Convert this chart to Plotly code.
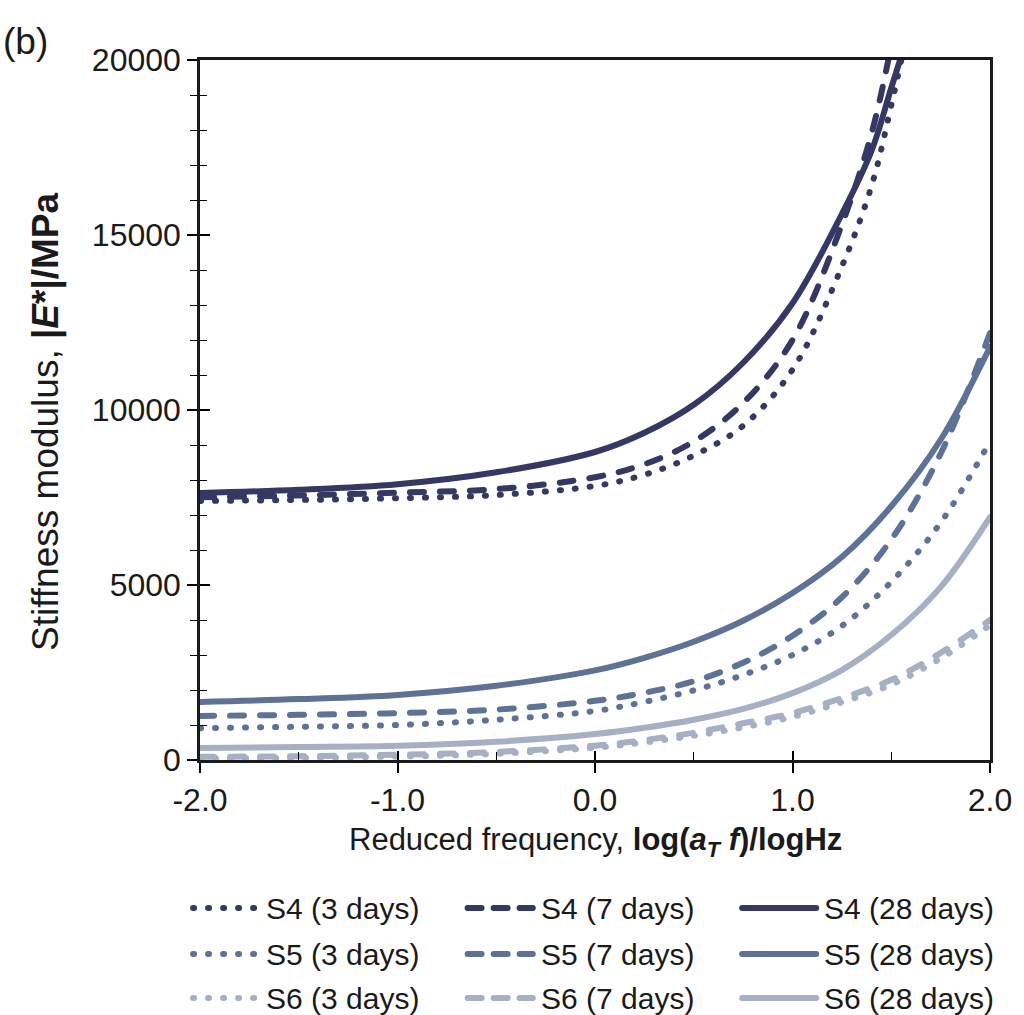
import plotly.graph_objects as go

# Reduced frequency, log(aT f) / logHz
freq = [-2.0, -1.5, -1.0, -0.5, 0.0, 0.25, 0.5, 0.75, 1.0, 1.25, 1.5, 1.75, 2.0]
# S4 rises past the 20000 MPa ceiling, so it gets its own grid
freq_s4 = [-2.0, -1.5, -1.0, -0.5, 0.0, 0.25, 0.5, 0.75, 1.0, 1.25, 1.4, 1.5, 1.6]

# Stiffness modulus |E*| (MPa)
s4_3d = [7400, 7430, 7480, 7570, 7830, 8150, 8700, 9550, 11150, 14100, 16400, 18700, 21300]
s4_7d = [7510, 7560, 7640, 7740, 8080, 8450, 9100, 10200, 12000, 15300, 17900, 20400, 23200]
s4_28d = [7630, 7720, 7880, 8220, 8800, 9350, 10150, 11350, 13050, 15600, 17400, 19200, 21000]

s5_3d = [910, 950, 1000, 1150, 1400, 1660, 1990, 2430, 3000, 3830, 5090, 6780, 9100]
s5_7d = [1260, 1290, 1340, 1440, 1690, 1920, 2250, 2780, 3550, 4650, 6300, 8750, 12200]
s5_28d = [1660, 1740, 1860, 2120, 2560, 2920, 3380, 3980, 4770, 5800, 7250, 9150, 11800]

s6_3d = [40, 60, 100, 180, 350, 500, 690, 930, 1230, 1650, 2150, 2900, 3850]
s6_7d = [90, 110, 150, 230, 410, 570, 780, 1050, 1340, 1770, 2290, 3060, 4000]
s6_28d = [340, 370, 405, 520, 740, 920, 1150, 1460, 1910, 2570, 3570, 4940, 6940]

labels = [
    "S4 (3 days)", "S4 (7 days)", "S4 (28 days)",
    "S5 (3 days)", "S5 (7 days)", "S5 (28 days)",
    "S6 (3 days)", "S6 (7 days)", "S6 (28 days)",
]
x_tick_vals = [-2, -1, 0, 1, 2]
x_tick_text = ["-2.0", "-1.0", "0.0", "1.0", "2.0"]
y_tick_vals = [0, 5000, 10000, 15000, 20000]
y_tick_text = ["0", "5000", "10000", "15000", "20000"]

C_S4 = "#363864"
C_S5 = "#5e7296"
C_S6 = "#a6afc3"
DOT = "1px,14px"
DASH = "14px,16px"
LW = 6

series = [
    (freq_s4, s4_3d, C_S4, DOT), (freq_s4, s4_7d, C_S4, DASH), (freq_s4, s4_28d, C_S4, "solid"),
    (freq, s5_3d, C_S5, DOT), (freq, s5_7d, C_S5, DASH), (freq, s5_28d, C_S5, "solid"),
    (freq, s6_3d, C_S6, DOT), (freq, s6_7d, C_S6, DASH), (freq, s6_28d, C_S6, "solid"),
]

fig = go.Figure()
for (xs, ys, col, dash), name in zip(series, labels):
    fig.add_trace(go.Scatter(
        x=xs, y=ys, name=name, mode="lines", showlegend=False,
        line=dict(color=col, width=LW, dash=dash, shape="spline", smoothing=1.0),
    ))

# empty trace that carries the inner tick axes
fig.add_trace(go.Scatter(x=[], y=[], xaxis="x2", yaxis="y2", showlegend=False, hoverinfo="skip"))

FONT = "Liberation Sans, Arial, Helvetica, sans-serif"
TXT = "#1a1a1a"
PLOT_L, PLOT_R, PLOT_T, PLOT_B = 200, 1000, 60, 760


def px_x(px):
    return (px - PLOT_L) / (PLOT_R - PLOT_L)


def px_y(py):
    return (PLOT_B - py) / (PLOT_B - PLOT_T)


axis_common = dict(tickcolor="black", tickwidth=1.5, zeroline=False, showgrid=False)

fig.update_layout(
    width=1024, height=1015,
    margin=dict(l=PLOT_L, r=1024 - PLOT_R, t=PLOT_T, b=1015 - PLOT_B),
    paper_bgcolor="white", plot_bgcolor="white",
    font=dict(family=FONT, color=TXT),
    showlegend=False,
    xaxis=dict(
        range=[-2, 2], tickvals=x_tick_vals, ticktext=x_tick_text,
        ticks="outside", ticklen=10, showline=True, linecolor=TXT, linewidth=2.5,
        mirror=True, tickfont=dict(size=32, family=FONT, color=TXT),
        **axis_common,
    ),
    xaxis2=dict(
        range=[-2, 2], overlaying="x", anchor="y", side="bottom", tickvals=x_tick_vals,
        ticks="inside", ticklen=9, showticklabels=False, showline=False,
        minor=dict(dtick=0.5, tick0=-2, ticks="inside", ticklen=8, tickcolor="black", tickwidth=1.2),
        **axis_common,
    ),
    yaxis=dict(
        range=[0, 20000], tickvals=y_tick_vals, ticktext=y_tick_text,
        ticks="outside", ticklen=10, showline=True, linecolor=TXT, linewidth=2.5,
        mirror=True, tickfont=dict(size=32, family=FONT, color=TXT),
        minor=dict(dtick=1000, tick0=0, ticks="outside", ticklen=7, tickcolor="black", tickwidth=1.2),
        **axis_common,
    ),
    yaxis2=dict(
        range=[0, 20000], overlaying="y", anchor="x", side="left", tickvals=y_tick_vals,
        ticks="inside", ticklen=10, showticklabels=False, showline=False,
        minor=dict(dtick=1000, tick0=0, ticks="inside", ticklen=7, tickcolor="black", tickwidth=1.2),
        **axis_common,
    ),
)

annotations = [
    dict(text="(b)", x=px_x(-2), y=px_y(42), xref="paper", yref="paper",
         xanchor="left", yanchor="middle", showarrow=False,
         font=dict(size=37, family=FONT, color=TXT)),
    dict(text="Stiffness modulus, <b>|<i>E</i>*|/MPa</b>", x=px_x(44), y=px_y(421),
         xref="paper", yref="paper", xanchor="center", yanchor="middle", textangle=-90,
         showarrow=False, font=dict(size=37, family=FONT, color=TXT)),
    dict(text="Reduced frequency, <b>log(<i>a</i><sub><i>T</i></sub> <i>f</i>)/logHz</b>",
         x=px_x(601), y=px_y(842), xref="paper", yref="paper", xanchor="center",
         yanchor="middle", showarrow=False, font=dict(size=31, family=FONT, color=TXT)),
]

# legend drawn as a 3 x 3 key below the axes
row_y = [908, 954, 998]
col_line = [(190, 262), (468, 540), (746, 827)]
col_text = [265, 543, 830]
legend_dash = [DOT, "14px,12px", "solid"]
shapes = []
for i, ((_, _, col, _), name) in enumerate(zip(series, labels)):
    r, c = divmod(i, 3)
    x0, x1 = col_line[c]
    shapes.append(dict(
        type="line", xref="paper", yref="paper",
        x0=px_x(x0 + 3), x1=px_x(x1 - 3), y0=px_y(row_y[r]), y1=px_y(row_y[r]),
        line=dict(color=col, width=LW, dash=legend_dash[c]),
    ))
    annotations.append(dict(
        text=name, x=px_x(col_text[c]), y=px_y(row_y[r]), xref="paper", yref="paper",
        xanchor="left", yanchor="middle", showarrow=False,
        font=dict(size=30, family=FONT, color=TXT),
    ))

fig.update_layout(annotations=annotations, shapes=shapes)

# round line caps give the dotted curves their round dots
post = """
var gd = document.getElementById('{plot_id}');
function roundCaps() {
  gd.querySelectorAll('.scatterlayer path.js-line, .shapelayer path').forEach(function (p) {
    p.style.strokeLinecap = 'round';
  });
}
roundCaps();
gd.on('plotly_afterplot', roundCaps);
"""

fig.write_html("out.html", post_script=post)
